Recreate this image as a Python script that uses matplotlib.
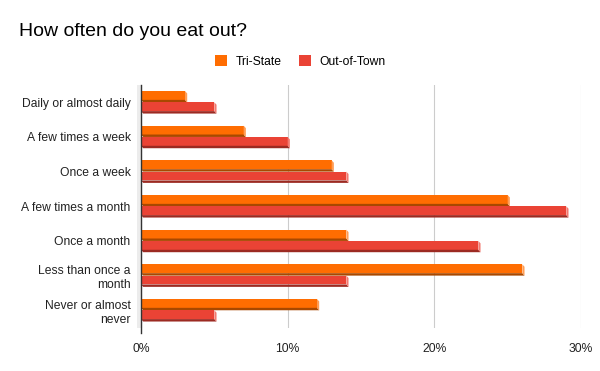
import matplotlib
matplotlib.use('Agg')
import matplotlib.pyplot as plt
from matplotlib.patches import Polygon, Rectangle
from matplotlib.ticker import FuncFormatter
import numpy as np

plt.rcParams['font.family'] = ['Liberation Sans', 'DejaVu Sans']

categories = ['Daily or almost daily', 'A few times a week', 'Once a week',
              'A few times a month', 'Once a month', 'Less than once a\nmonth',
              'Never or almost\nnever']
tri_state = [3, 7, 13, 25, 14, 26, 12]
out_of_town = [5, 10, 14, 29, 23, 14, 5]
x_ticks = [0, 10, 20, 30]

series = [
    ('Tri-State', tri_state, '#ff6d01', '#a84800', '#ff9d55'),
    ('Out-of-Town', out_of_town, '#ea4335', '#9c2a22', '#f27a70'),
]

fig = plt.figure(figsize=(6, 3.71), dpi=100)
ax = fig.add_axes([0.235, 0.117, 0.7333, 0.654])

face_h = 0.255   # bar face height (data units)
depth_y = 0.07   # extruded bottom strip (data units)
depth_x = 0.15   # extruded right edge (percent)
y = np.arange(len(categories))

for i, (name, vals, face, dark, light) in enumerate(series):
    tops = y - 0.325 + i * 0.325
    ax.barh(tops, vals, height=face_h, align='edge', color=face,
            label=name, zorder=3, linewidth=0)
    for top, v in zip(tops, vals):
        bot = top + face_h
        ax.add_patch(Polygon([(0, bot), (v, bot), (v + depth_x, bot + depth_y),
                              (depth_x, bot + depth_y)],
                             closed=True, color=dark, lw=0, zorder=3))
        ax.add_patch(Polygon([(v, top), (v + depth_x, top + depth_y),
                              (v + depth_x, bot + depth_y), (v, bot)],
                             closed=True, color=light, lw=0, zorder=3))

ax.set_xlim(0, 30)
ax.set_ylim(len(categories) - 0.5, -0.5)
ax.set_xticks(x_ticks)
ax.xaxis.set_major_formatter(FuncFormatter(lambda v, p: f'{v:.0f}%'))
ax.set_yticks(y)
ax.set_yticklabels(categories, fontsize=8.7, color='#222222', ma='right')
ax.tick_params(axis='x', labelsize=8.7, colors='#222222', length=0, pad=11)
ax.tick_params(axis='y', length=0, pad=7.5)
ax.grid(axis='x', color='#cccccc', linewidth=0.8, zorder=0)
for s in ['top', 'right', 'bottom']:
    ax.spines[s].set_visible(False)
ax.spines['left'].set_color('#333333')
ax.spines['left'].set_linewidth(1.0)
ax.spines['left'].set_zorder(4)
ax.spines['left'].set_bounds(len(categories) - 0.5 + 0.15, -0.5)

# faint back wall left of the axis
ax.add_patch(Rectangle((-0.008, 0), 0.008, 1, transform=ax.transAxes,
                       color='#ececec', lw=0, clip_on=False, zorder=1))

fig.text(0.032, 0.914, 'How often do you eat out?', fontsize=14,
         color='#000000', va='center')
fig.legend(loc='center', bbox_to_anchor=(0.501, 0.834), ncol=2, frameon=False,
           fontsize=8.7, handlelength=0.95, handleheight=0.95,
           columnspacing=1.45, handletextpad=0.75)

fig.savefig('out.png', dpi=100, facecolor='white')
